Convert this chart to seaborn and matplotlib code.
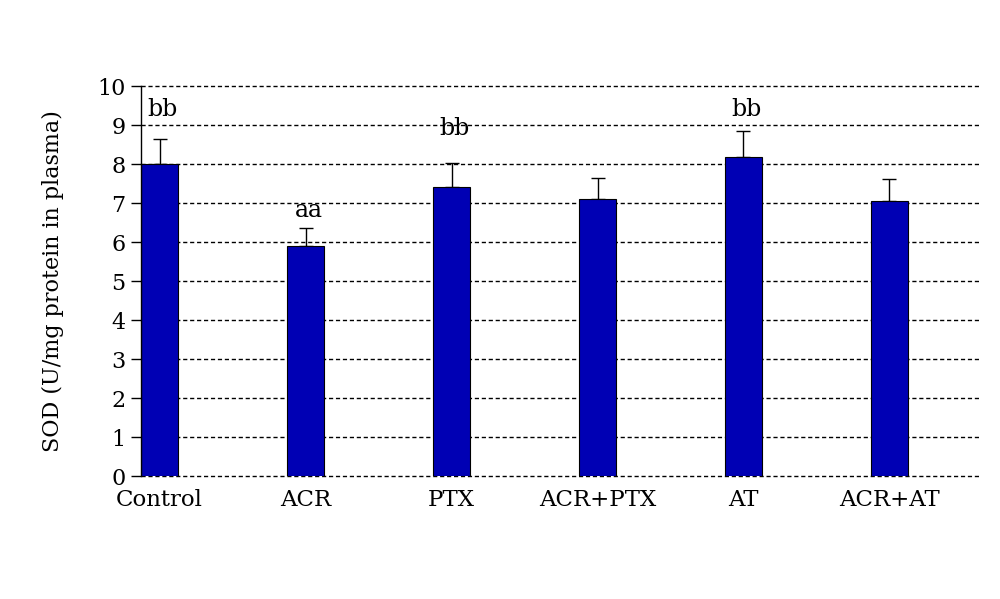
import matplotlib
matplotlib.use("Agg")
import matplotlib.pyplot as plt
import seaborn as sns
import pandas as pd

# ---------------------------------------------------------------------------
# Dados
# ---------------------------------------------------------------------------
groups = ["Control", "ACR", "PTX", "ACR+PTX", "AT", "ACR+AT"]
sod_mean = [8.0, 5.9, 7.42, 7.1, 8.19, 7.05]
sod_err = [0.64, 0.46, 0.60, 0.55, 0.66, 0.57]
letters = ["bb", "aa", "bb", "", "bb", ""]
letter_y = [9.4, 6.8, 8.9, 0, 9.4, 0]

BAR_BLUE = "#0000B4"

sns.set_style("white")
plt.rcParams["font.family"] = ["DejaVu Serif"]
plt.rcParams["text.color"] = "black"
plt.rcParams["axes.labelcolor"] = "black"
plt.rcParams["xtick.color"] = "black"
plt.rcParams["ytick.color"] = "black"

df = pd.DataFrame({"group": groups, "sod": sod_mean})

fig = plt.figure(figsize=(10, 5.99), dpi=100)
ax = fig.add_axes([0.141, 0.2053, 0.839, 0.6511])

# grade tracejada atrás das barras
for v in range(0, 11):
    ax.axhline(v, color="black", linestyle=(0, (3, 2)), linewidth=1.0,
               zorder=0, clip_on=False)

sns.barplot(data=df, x="group", y="sod", color=BAR_BLUE, width=0.253,
            edgecolor="black", linewidth=0.8, saturation=1, errorbar=None,
            ax=ax, zorder=2)

xpos = ax.get_xticks()
ax.errorbar(xpos, sod_mean, yerr=[[0] * len(sod_err), sod_err], fmt="none",
            ecolor="black", elinewidth=1.0, capsize=5, capthick=1.0, zorder=1)

for x, lab, y in zip(xpos, letters, letter_y):
    if lab:
        ax.text(x + 0.02, y, lab, ha="center", va="center", fontsize=17)

ax.set_ylim(0, 10)
ax.set_xlim(-0.127, 5.62)
ax.set_yticks(range(0, 11))
ax.set_ylabel("SOD (U/mg protein in plasma)", fontsize=16, labelpad=24)
ax.set_xlabel("")

for side in ["top", "right", "bottom"]:
    ax.spines[side].set_visible(False)
ax.spines["left"].set_color("black")
ax.spines["left"].set_linewidth(1.0)

ax.tick_params(axis="y", which="major", left=True, length=7, width=1.0,
               color="black", labelsize=16, pad=4)
ax.tick_params(axis="x", bottom=False, labelsize=16.5, pad=6)

fig.savefig("out.png", dpi=100)
